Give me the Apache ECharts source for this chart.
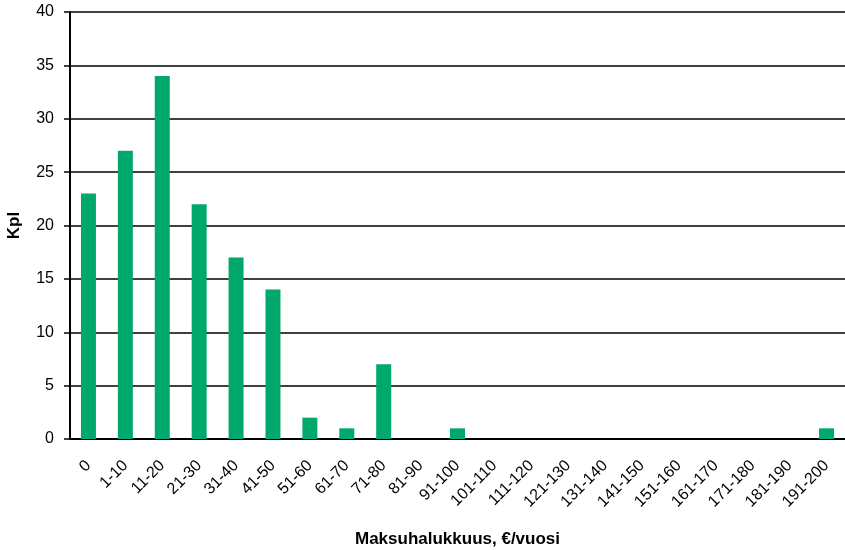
<!DOCTYPE html>
<html>
<head>
<meta charset="utf-8">
<script src="https://cdn.jsdelivr.net/npm/echarts@6/dist/echarts.min.js"></script>
<style>
  html, body { margin: 0; padding: 0; background: #fff; }
  #chart { width: 845px; height: 550px; }
</style>
</head>
<body>
<div id="chart"></div>
<script>
// Willingness-to-pay classes (€/year) and number of respondents per class
const categories = ['0', '1-10', '11-20', '21-30', '31-40', '41-50', '51-60', '61-70', '71-80', '81-90',
  '91-100', '101-110', '111-120', '121-130', '131-140', '141-150', '151-160', '161-170', '171-180',
  '181-190', '191-200'];
const counts = [23, 27, 34, 22, 17, 14, 2, 1, 7, 0, 1, 0, 0, 0, 0, 0, 0, 0, 0, 0, 1];
const yTicks = { min: 0, max: 40, interval: 5 };

const chart = echarts.init(document.getElementById('chart'));
chart.setOption({
  animation: false,
  textStyle: { fontFamily: 'Liberation Sans, Arial, sans-serif' },
  grid: { left: 70, right: 0, top: 12, bottom: 111, containLabel: false, outerBoundsMode: 'none' },
  xAxis: {
    type: 'category',
    data: categories,
    name: 'Maksuhalukkuus, €/vuosi',
    nameLocation: 'middle',
    nameGap: 92,
    nameTextStyle: { fontWeight: 'bold', fontSize: 17, color: '#000' },
    axisLine: { lineStyle: { color: '#000', width: 2 } },
    axisTick: { show: false },
    axisLabel: { rotate: 45, fontSize: 16, color: '#000', margin: 24, interval: 0 }
  },
  yAxis: {
    type: 'value',
    min: yTicks.min,
    max: yTicks.max,
    interval: yTicks.interval,
    name: 'Kpl',
    nameLocation: 'middle',
    nameGap: 47,
    nameTextStyle: { fontWeight: 'bold', fontSize: 17, color: '#000' },
    axisLine: { show: true, lineStyle: { color: '#000', width: 2 } },
    axisTick: { show: true, length: 6, lineStyle: { color: '#000', width: 1.5 } },
    axisLabel: { fontSize: 16, color: '#000', margin: 16 },
    splitLine: { lineStyle: { color: '#000', width: 1.5 } }
  },
  series: [{
    type: 'bar',
    data: counts,
    barWidth: 15,
    itemStyle: { color: '#00A86B' }
  }]
});
</script>
</body>
</html>
